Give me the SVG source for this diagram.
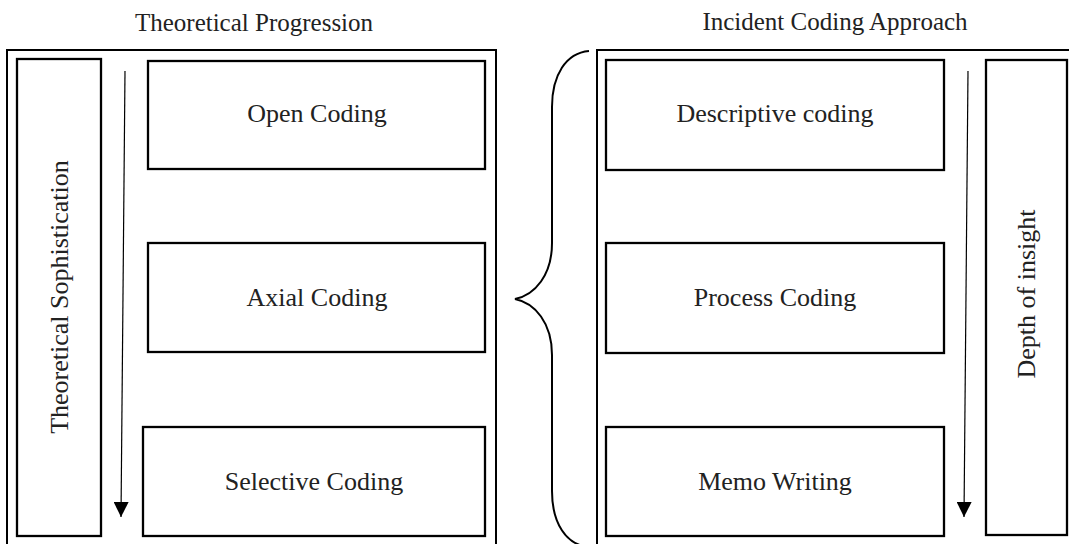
<svg xmlns="http://www.w3.org/2000/svg" width="1069" height="544" viewBox="0 0 1069 544">
<defs>
<style>
.frame{fill:none;stroke:#000;stroke-width:2}
.box{fill:#fff;stroke:#000;stroke-width:2.3}
.t{font-family:"Liberation Serif","DejaVu Serif",serif;font-size:26px;fill:#222;text-anchor:middle}
.h{font-size:25px}
.ln{fill:none;stroke:#000;stroke-width:1.2}
.brace{fill:none;stroke:#000;stroke-width:2}
</style>
<marker id="ah" viewBox="0 0 10 10" refX="10" refY="5" markerWidth="15" markerHeight="15" markerUnits="userSpaceOnUse" orient="auto">
<path d="M0,0 L10,5 L0,10 Z" fill="#000"/>
</marker>
</defs>
<rect width="1069" height="544" fill="#fff"/>
<g id="left-panel">
<text class="t h" x="254" y="31">Theoretical Progression</text>
<rect class="frame" x="7" y="50" width="489" height="500"/>
</g>
<g id="right-panel">
<text class="t h" x="835" y="30">Incident Coding Approach</text>
<rect class="frame" x="597" y="50" width="480" height="500"/>
</g>
<g id="theoretical-sophistication">
<rect class="box" x="17" y="59" width="84" height="477"/>
<text class="t" transform="translate(68,297) rotate(-90)">Theoretical Sophistication</text>
</g>
<g id="open-coding">
<rect class="box" x="148" y="61" width="337" height="108"/>
<text class="t" x="317" y="122">Open Coding</text>
</g>
<g id="axial-coding">
<rect class="box" x="148" y="243" width="337" height="109"/>
<text class="t" x="317" y="306">Axial Coding</text>
</g>
<g id="selective-coding">
<rect class="box" x="143" y="427" width="342" height="109"/>
<text class="t" x="314" y="490">Selective Coding</text>
</g>
<g id="descriptive-coding">
<rect class="box" x="606" y="60" width="338" height="110"/>
<text class="t" x="775" y="122">Descriptive coding</text>
</g>
<g id="process-coding">
<rect class="box" x="606" y="243" width="338" height="110"/>
<text class="t" x="775" y="306">Process Coding</text>
</g>
<g id="memo-writing">
<rect class="box" x="606" y="427" width="338" height="109"/>
<text class="t" x="775" y="490">Memo Writing</text>
</g>
<g id="depth-of-insight">
<rect class="box" x="986" y="60" width="81" height="475"/>
<text class="t" transform="translate(1035,294) rotate(-90)">Depth of insight</text>
</g>
<g id="connectors">
<line class="ln" x1="125" y1="71" x2="121" y2="517" marker-end="url(#ah)"/>
<line class="ln" x1="968" y1="71" x2="964" y2="517" marker-end="url(#ah)"/>
<path class="brace" d="M589,51 C566,53 552,75 552,107 L552,243 C552,275 535,295 515,299 C535,303 552,323 552,355 L552,491 C552,523 566,545 589,547"/>
</g>
</svg>
